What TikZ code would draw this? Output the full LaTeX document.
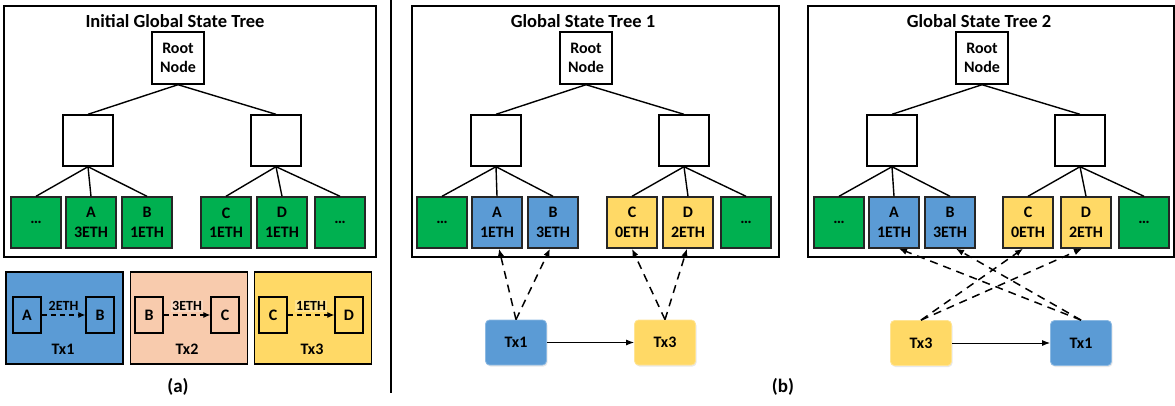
\documentclass[tikz,border=0pt]{standalone}
\usepackage{fontspec}
\setmainfont{Carlito}
\usetikzlibrary{arrows.meta,shadows,calc}

\definecolor{leafgreen}{HTML}{00B050}
\definecolor{txblue}{HTML}{5B9BD5}
\definecolor{txyellow}{HTML}{FFD966}
\definecolor{txpeach}{HTML}{F8CBAD}

\tikzset{
  treebox/.style={draw=black, line width=1.6pt, inner sep=0pt, anchor=north west},
  titletext/.style={font=\bfseries\fontsize{18.5}{22}\selectfont, inner sep=0pt},
  rootbox/.style={draw=black, line width=1.4pt, fill=white, minimum width=52pt, minimum height=52pt,
    inner sep=0pt, align=center, font=\bfseries\fontsize{16}{19.5}\selectfont},
  midbox/.style={draw=black, line width=1.4pt, fill=white, minimum width=50pt, minimum height=51pt, inner sep=0pt},
  leafbox/.style={draw=black!85, line width=1.4pt, minimum width=50pt, minimum height=51pt, inner sep=0pt,
    align=center, font=\bfseries\fontsize{16}{19.5}\selectfont},
  treeedge/.style={line width=1.4pt},
  txpanel/.style={draw=black, line width=1.6pt, minimum width=117pt, minimum height=92pt, inner sep=0pt},
  innerbox/.style={draw=black, line width=1.3pt, minimum width=28pt, minimum height=36pt, inner sep=0pt,
    font=\bfseries\fontsize{16}{19}\selectfont},
  amountlabel/.style={font=\bfseries\fontsize{14}{16}\selectfont, inner sep=1.5pt, above=2.5pt},
  txlabel/.style={font=\bfseries\fontsize{16}{19}\selectfont, inner sep=0pt},
  smalldash/.style={line width=1.2pt, dash pattern=on 5pt off 4pt, -{Latex[length=7pt,width=6pt]}},
  refdash/.style={line width=1.5pt, dash pattern=on 8pt off 6pt, -{Latex[length=8pt,width=6.5pt]}},
  txnode/.style={rounded corners=4pt, minimum width=61pt, minimum height=45pt, inner sep=0pt,
    line width=0.8pt, font=\bfseries\fontsize{16}{19}\selectfont,
    drop shadow={opacity=0.18, shadow xshift=1pt, shadow yshift=-1.5pt}},
  orderarrow/.style={line width=1pt, -{Latex[length=8pt,width=6pt]}},
  caption/.style={font=\bfseries\fontsize{19}{22}\selectfont, inner sep=0pt},
}

% One state tree: #1 name prefix, #2 left edge, #3 box width, #4 title,
% #5 leaf list as position/colour/text
\newcommand{\gstree}[5]{%
  \begin{scope}[xshift=#2pt]
    \node[treebox, minimum width=#3pt, minimum height=251pt] (#1box) at (0,5) {};
    \node[titletext] (#1title) at (172,21) {#4};
    \node[rootbox] (#1root) at (175,58) {Root\\Node};
    \node[midbox] (#1ml) at (85,140.5) {};
    \node[midbox] (#1mr) at (273,140.5) {};
    \draw[treeedge] (#1root.south) -- (#1ml.north);
    \draw[treeedge] (#1root.south) -- (#1mr.north);
    \foreach \lx/\lc/\lt [count=\i] in {#5} {
      \node[leafbox, fill=\lc] (#1l\i) at (\lx,222.5) {\lt};
      \ifnum\i<4
        \draw[treeedge] (#1ml.south) -- (#1l\i.north);
      \else
        \draw[treeedge] (#1mr.south) -- (#1l\i.north);
      \fi
    }
  \end{scope}%
}

\begin{document}
\begin{tikzpicture}[x=1pt, y=-1pt]
  \useasboundingbox (0,0) rectangle (1175,405);

  % ---------- (a) initial tree and the three transactions ----------
  \gstree{t0}{3}{372}{Initial Global State Tree}{%
    33/leafgreen/{\dots}, 88/leafgreen/{A\\3ETH}, 144/leafgreen/{B\\1ETH},
    223/leafgreen/{C\\1ETH}, 279/leafgreen/{D\\1ETH}, 337/leafgreen/{\dots}}

  \node[txpanel, fill=txblue] (p1) at (64.5,318) {};
  \node[innerbox, fill=txblue] (p1a) at (27,315) {A};
  \node[innerbox, fill=txblue] (p1b) at (100,315) {B};
  \draw[smalldash] (p1a) -- node[amountlabel] {2ETH} (p1b);
  \node[txlabel] (p1t) at (63,349) {Tx1};

  \node[txpanel, fill=txpeach] (p2) at (189,318) {};
  \node[innerbox, fill=txpeach] (p2a) at (149,315) {B};
  \node[innerbox, fill=txpeach] (p2b) at (225,315) {C};
  \draw[smalldash] (p2a) -- node[amountlabel, fill=white, fill opacity=0.25, text opacity=1] {3ETH} (p2b);
  \node[txlabel] (p2t) at (187,349) {Tx2};

  \node[txpanel, fill=txyellow] (p3) at (313,318) {};
  \node[innerbox, fill=txyellow] (p3a) at (273,315) {C};
  \node[innerbox, fill=txyellow] (p3b) at (349,315) {D};
  \draw[smalldash] (p3a) -- node[amountlabel, fill=white, fill opacity=0.25, text opacity=1] {1ETH} (p3b);
  \node[txlabel] (p3t) at (312,349) {Tx3};

  \node[caption] (capa) at (178,387) {(a)};

  % separator between the two parts
  \coordinate (sepTop) at (391,0);
  \coordinate (sepBot) at (391,393);
  \draw[line width=2pt] (sepTop) -- (sepBot);

  % ---------- (b) two execution orders ----------
  \gstree{t1}{411}{367}{Global State Tree 1}{%
    31/leafgreen/{\dots}, 86/txblue/{A\\1ETH}, 142/txblue/{B\\3ETH},
    221/txyellow/{C\\0ETH}, 277/txyellow/{D\\2ETH}, 335/leafgreen/{\dots}}

  \node[txnode, fill=txblue, draw=txblue!70!white] (x1) at (516,342.5) {Tx1};
  \node[txnode, fill=txyellow, draw=txyellow!70!white] (x3) at (665,342.5) {Tx3};
  \draw[orderarrow] (x1) -- (x3);
  \draw[refdash] (x1.north) -- ([xshift=2pt]t1l2.south);
  \draw[refdash] (x1.north) -- ([xshift=-3pt]t1l3.south);
  \draw[refdash] (x3.north) -- (t1l4.south);
  \draw[refdash] (x3.north) -- ([xshift=-1pt]t1l5.south);

  \gstree{t2}{807}{366}{Global State Tree 2}{%
    32/leafgreen/{\dots}, 87/txblue/{A\\1ETH}, 143/txblue/{B\\3ETH},
    221/txyellow/{C\\0ETH}, 279/txyellow/{D\\2ETH}, 337/leafgreen/{\dots}}

  \node[txnode, fill=txyellow, draw=txyellow!70!white] (y3) at (921,343) {Tx3};
  \node[txnode, fill=txblue, draw=txblue!70!white] (y1) at (1081,343) {Tx1};
  \draw[orderarrow] (y3) -- (y1);
  \draw[refdash] (y1.north) -- ([xshift=5pt]t2l2.south);
  \draw[refdash] (y1.north) -- ([xshift=6pt]t2l3.south);
  \draw[refdash] (y3.north) -- ([xshift=-5pt]t2l4.south);
  \draw[refdash] (y3.north) -- ([xshift=-4pt]t2l5.south);

  \node[caption] (capb) at (783,387) {(b)};
\end{tikzpicture}
\end{document}
